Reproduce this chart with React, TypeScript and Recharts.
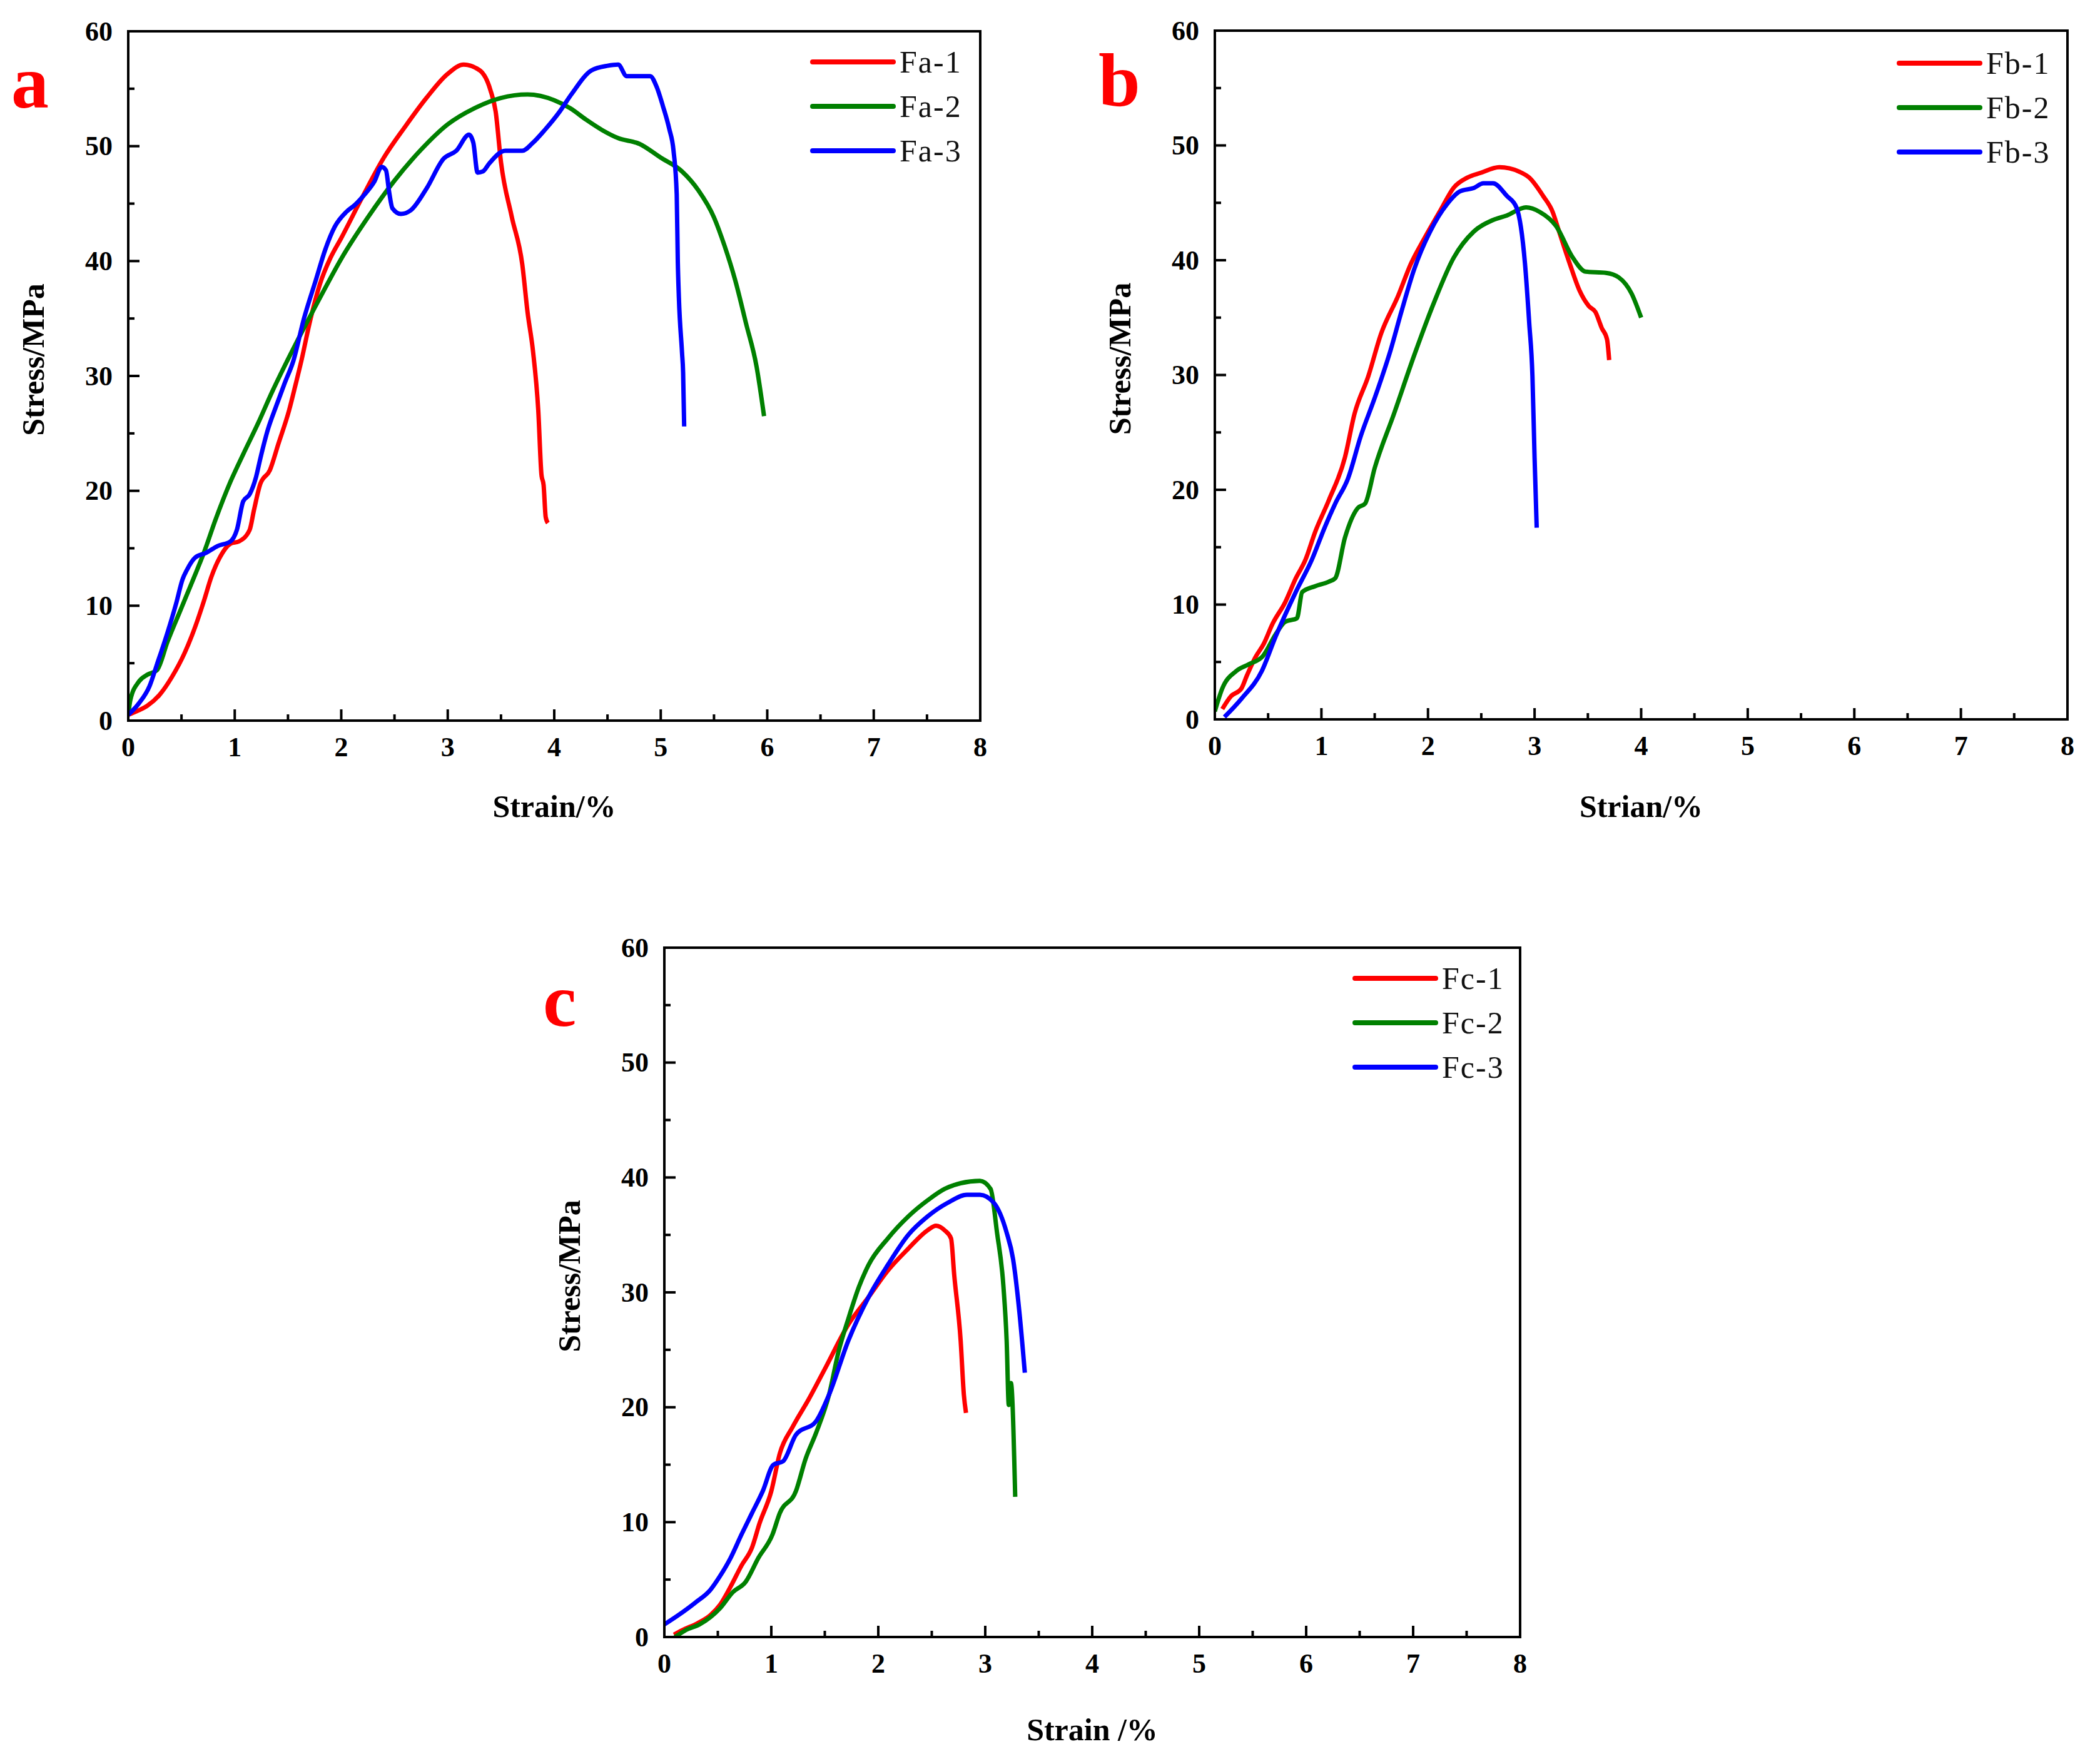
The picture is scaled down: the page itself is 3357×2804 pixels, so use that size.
import { LineChart, Line, XAxis, YAxis, ReferenceArea, Legend, Label } from "recharts"

const strainTicks = [0, 0.5, 1, 1.5, 2, 2.5, 3, 3.5, 4, 4.5, 5, 5.5, 6, 6.5, 7, 7.5, 8]
const stressTicks = [0, 5, 10, 15, 20, 25, 30, 35, 40, 45, 50, 55, 60]
const seriesColors = ["#ff0000", "#008000", "#0000ff"]

const namesA = ["Fa-1", "Fa-2", "Fa-3"]
const namesB = ["Fb-1", "Fb-2", "Fb-3"]
const namesC = ["Fc-1", "Fc-2", "Fc-3"]

// strain (%), stress (MPa)
const fa1 = [[0,0.5],[0.1,0.9],[0.18,1.3],[0.29,2.2],[0.41,3.8],[0.53,5.9],[0.63,8.2],[0.71,10.4],[0.78,12.5],[0.86,14.2],[0.96,15.4],[1.04,15.6],[1.14,16.6],[1.18,18.3],[1.24,20.6],[1.33,21.8],[1.41,24.1],[1.51,27],[1.57,29.2],[1.63,31.5],[1.7,34.5],[1.8,38],[1.9,40.3],[2.0,42],[2.2,45.6],[2.4,49],[2.6,51.7],[2.8,54.2],[3.0,56.3],[3.15,57.1],[3.3,56.6],[3.4,54.9],[3.45,53],[3.5,48.6],[3.6,43.9],[3.7,39.7],[3.75,35.5],[3.8,32.2],[3.85,27],[3.88,21.4],[3.9,20.5],[3.92,17.7],[3.94,17.2]]
const fa2 = [[0,0.5],[0.02,1.8],[0.1,3.4],[0.18,4.0],[0.27,4.4],[0.37,6.9],[0.49,9.6],[0.61,12.3],[0.71,14.6],[0.82,17.5],[0.96,20.8],[1.08,23.2],[1.22,25.9],[1.35,28.6],[1.47,30.9],[1.59,33.1],[1.8,36.8],[2.0,40.2],[2.25,43.8],[2.5,47],[2.75,49.7],[3.0,51.9],[3.25,53.3],[3.5,54.2],[3.75,54.5],[4.0,54],[4.15,53.3],[4.3,52.3],[4.45,51.4],[4.6,50.7],[4.8,50.2],[5.0,49],[5.2,47.8],[5.35,46.2],[5.5,43.8],[5.6,41.3],[5.7,38.3],[5.8,34.6],[5.9,30.8],[5.97,26.5]]
const fa3 = [[0,0.5],[0.1,1.5],[0.2,3],[0.27,4.9],[0.37,7.7],[0.45,10.2],[0.51,12.3],[0.55,13.1],[0.63,14.2],[0.73,14.6],[0.84,15.2],[0.96,15.6],[1.02,16.6],[1.08,19.1],[1.14,19.7],[1.2,21.2],[1.24,22.8],[1.31,25.3],[1.39,27.4],[1.47,29.4],[1.55,31.3],[1.65,35],[1.76,38.3],[1.85,41],[1.94,43],[2.05,44.3],[2.13,44.9],[2.22,45.8],[2.31,46.9],[2.38,48.2],[2.42,47.9],[2.45,46],[2.48,44.6],[2.56,44.1],[2.65,44.4],[2.8,46.3],[2.96,48.9],[3.08,49.6],[3.2,51],[3.24,50.3],[3.28,47.7],[3.33,47.8],[3.39,48.5],[3.54,49.6],[3.7,49.6],[3.8,50.3],[3.91,51.4],[4.05,53],[4.16,54.5],[4.35,56.6],[4.5,57],[4.6,57.1],[4.68,56.1],[4.9,56.1],[4.96,55.2],[5.02,53.5],[5.08,51.5],[5.12,49.6],[5.15,45.8],[5.16,40],[5.17,36.9],[5.2,32],[5.21,30.3],[5.22,25.6]]

const fb1 = [[0.07,0.9],[0.15,2.0],[0.25,2.7],[0.3,3.8],[0.38,5.4],[0.46,6.6],[0.54,8.3],[0.66,10.2],[0.76,12.3],[0.85,13.9],[0.94,16.3],[1.07,19.1],[1.22,22.8],[1.31,26.6],[1.44,29.9],[1.56,33.6],[1.72,36.9],[1.84,39.7],[1.96,41.8],[2.12,44.4],[2.24,46.3],[2.37,47.2],[2.49,47.6],[2.67,48.1],[2.86,47.7],[2.95,47.2],[3.08,45.6],[3.17,44.2],[3.23,42.5],[3.33,39.7],[3.42,37.4],[3.51,36],[3.57,35.5],[3.63,34.1],[3.68,33.1],[3.7,31.3]]
const fb2 = [[0,0.7],[0.07,2.7],[0.2,4.2],[0.32,4.8],[0.45,5.5],[0.57,7.4],[0.66,8.5],[0.77,8.8],[0.82,11.1],[0.94,11.6],[1.07,12],[1.13,12.3],[1.22,15.8],[1.34,18.4],[1.41,18.8],[1.5,21.9],[1.68,26.6],[1.87,31.7],[2.06,36.4],[2.24,40.2],[2.43,42.5],[2.61,43.5],[2.74,43.9],[2.92,44.6],[3.05,44.2],[3.2,43],[3.36,40.2],[3.48,39],[3.67,38.9],[3.79,38.5],[3.91,37.1],[4.0,35]]
const fb3 = [[0.09,0.2],[0.25,1.8],[0.44,4.2],[0.57,7.2],[0.76,11.1],[0.91,13.9],[1.03,16.7],[1.13,18.8],[1.25,21],[1.37,24.7],[1.5,28],[1.65,32.2],[1.75,35.5],[1.87,39.2],[2.02,42.5],[2.18,44.9],[2.3,46],[2.43,46.3],[2.52,46.7],[2.61,46.7],[2.74,45.6],[2.83,44.6],[2.91,39.7],[2.95,34.5],[2.98,29.9],[3.0,22.8],[3.02,16.7]]

const fc1 = [[0.09,0.2],[0.17,0.6],[0.31,1.2],[0.43,1.9],[0.52,2.8],[0.62,4.4],[0.72,6.2],[0.82,7.8],[0.89,9.9],[1.0,12.7],[1.08,16],[1.2,18.3],[1.35,20.7],[1.51,23.5],[1.72,27.2],[1.91,29.6],[2.09,31.9],[2.28,33.8],[2.46,35.4],[2.54,35.8],[2.62,35.4],[2.68,34.7],[2.71,31.5],[2.77,25.8],[2.8,21.1],[2.82,19.5]]
const fc2 = [[0.1,0],[0.2,0.6],[0.33,1.1],[0.52,2.5],[0.64,3.9],[0.76,4.8],[0.88,6.9],[1.01,8.9],[1.08,10.8],[1.23,12.7],[1.32,15.5],[1.42,17.8],[1.54,21.1],[1.63,24.9],[1.72,27.7],[1.82,30.5],[1.91,32.4],[2.09,34.7],[2.28,36.6],[2.46,38],[2.62,39],[2.77,39.5],[2.95,39.7],[3.05,39],[3.11,35.2],[3.17,30.5],[3.2,25.8],[3.22,20.2],[3.24,22.1],[3.28,12.2]]
const fc3 = [[0,1.1],[0.13,1.9],[0.29,3],[0.43,4.1],[0.52,5.3],[0.62,6.9],[0.72,8.9],[0.82,10.8],[0.92,12.7],[1.02,15],[1.11,15.3],[1.23,17.6],[1.42,18.8],[1.54,21.1],[1.72,25.8],[1.91,29.6],[2.09,32.4],[2.28,35],[2.46,36.6],[2.65,37.8],[2.83,38.5],[2.95,38.5],[3.08,37.8],[3.2,35.2],[3.26,32.9],[3.32,28.2],[3.37,23]]

const serif = "'Liberation Serif', 'Times New Roman', serif"
const toPoints = (arr: number[][]) => arr.map(([x, y]) => ({ x, y }))

const XTick = (props: any) => {
  const { x, y, payload } = props
  const major = Number.isInteger(payload.value)
  return (
    <g>
      <line x1={x} x2={x} y1={y} y2={y - (major ? 18 : 10)} stroke="#000" strokeWidth={4} />
      {major && (
        <text x={x} y={y + 42} textAnchor="middle" dominantBaseline="central" fontFamily={serif} fontWeight="bold" fontSize={44} fill="#000">
          {payload.value}
        </text>
      )}
    </g>
  )
}

const YTick = (props: any) => {
  const { x, y, payload } = props
  const major = payload.value % 10 === 0
  return (
    <g>
      <line x1={x} x2={x + (major ? 18 : 10)} y1={y} y2={y} stroke="#000" strokeWidth={4} />
      {major && (
        <text x={x - 25} y={y} textAnchor="end" dominantBaseline="central" fontFamily={serif} fontWeight="bold" fontSize={44} fill="#000">
          {payload.value}
        </text>
      )}
    </g>
  )
}

const legendContent = (props: any) => (
  <div>
    {props.payload.map((p: any) => (
      <div key={p.value} style={{ height: 71, display: "flex", alignItems: "center" }}>
        <svg width={137} height={10} style={{ display: "block" }}>
          <line x1={4} x2={133} y1={5} y2={5} stroke={p.color} strokeWidth={8} strokeLinecap="round" />
        </svg>
        <span style={{ marginLeft: 6, fontFamily: serif, fontSize: 50, color: "#111", letterSpacing: 2 }}>{p.value}</span>
      </div>
    ))}
  </div>
)

type PanelProps = {
  left: number
  top: number
  width: number
  height: number
  margin: { top: number; right: number; bottom: number; left: number }
  series: number[][][]
  names: string[]
  xTitle: string
  xTitleDy: number
  legendLeft: number
  legendTop: number
}

function Panel(p: PanelProps) {
  return (
    <div style={{ position: "absolute", left: p.left, top: p.top }}>
      <LineChart width={p.width} height={p.height} margin={p.margin}>
        <XAxis
          type="number"
          dataKey="x"
          domain={[0, 8]}
          ticks={strainTicks}
          interval={0}
          allowDataOverflow
          tickSize={0}
          tickMargin={0}
          tickLine={false}
          tick={<XTick />}
          height={150}
          axisLine={{ stroke: "#000", strokeWidth: 4 }}
        >
          <Label
            content={(lp: any) => {
              const vb = lp.viewBox
              return (
                <text x={vb.x + vb.width / 2} y={vb.y + p.xTitleDy} textAnchor="middle" dominantBaseline="central" fontFamily={serif} fontWeight="bold" fontSize={50} fill="#000">
                  {p.xTitle}
                </text>
              )
            }}
          />
        </XAxis>
        <YAxis
          type="number"
          domain={[0, 60]}
          ticks={stressTicks}
          interval={0}
          allowDataOverflow
          tickSize={0}
          tickMargin={0}
          tickLine={false}
          tick={<YTick />}
          width={150}
          axisLine={{ stroke: "#000", strokeWidth: 4 }}
        >
          <Label
            content={(lp: any) => {
              const vb = lp.viewBox
              const cx = vb.x + vb.width - 152
              const cy = vb.y + vb.height / 2 - 26
              return (
                <text x={cx} y={cy} transform={`rotate(-90, ${cx}, ${cy})`} textAnchor="middle" dominantBaseline="central" fontFamily={serif} fontWeight="bold" fontSize={50} fill="#000">
                  Stress/MPa
                </text>
              )
            }}
          />
        </YAxis>
        <ReferenceArea x1={0} x2={8} y1={0} y2={60} fill="none" stroke="#000" strokeWidth={4} />
        {p.series.map((s, i) => (
          <Line
            key={p.names[i]}
            data={toPoints(s)}
            dataKey="y"
            name={p.names[i]}
            type="monotone"
            stroke={seriesColors[i]}
            strokeWidth={7}
            dot={false}
            activeDot={false}
            isAnimationActive={false}
          />
        ))}
        <Legend
          layout="vertical"
          align="center"
          verticalAlign="middle"
          content={legendContent}
          wrapperStyle={{ position: "absolute", left: p.legendLeft, top: p.legendTop, width: "auto", height: "auto" }}
        />
      </LineChart>
    </div>
  )
}

export default function App() {
  return (
    <div style={{ position: "absolute", left: 0, top: 0, width: 3357, height: 2804, background: "#fff" }}>
      <Panel
        left={0}
        top={0}
        width={1650}
        height={1350}
        margin={{ top: 50, right: 83, bottom: 48, left: 55 }}
        series={[fa1, fa2, fa3]}
        names={namesA}
        xTitle="Strain/%"
        xTitleDy={137}
        legendLeft={1295}
        legendTop={63}
      />
      <Panel
        left={1690}
        top={0}
        width={1667}
        height={1350}
        margin={{ top: 49, right: 52, bottom: 50, left: 102 }}
        series={[fb1, fb2, fb3]}
        names={namesB}
        xTitle="Strian/%"
        xTitleDy={139}
        legendLeft={3032 - 1690}
        legendTop={65}
      />
      <Panel
        left={850}
        top={1400}
        width={1650}
        height={1404}
        margin={{ top: 115, right: 70, bottom: 37, left: 62 }}
        series={[fc1, fc2, fc3]}
        names={namesC}
        xTitle="Strain /%"
        xTitleDy={148}
        legendLeft={2162 - 850}
        legendTop={1563 - 1400 - 35}
      />
      <svg width={3357} height={2804} style={{ position: "absolute", left: 0, top: 0, pointerEvents: "none" }}>
        <text x={18} y={172} fontFamily={serif} fontWeight="bold" fontSize={120} fill="#ff0000">a</text>
        <text x={1756} y={169} fontFamily={serif} fontWeight="bold" fontSize={120} fill="#ff0000">b</text>
        <text x={868} y={1640} fontFamily={serif} fontWeight="bold" fontSize={120} fill="#ff0000">c</text>
      </svg>
    </div>
  )
}
